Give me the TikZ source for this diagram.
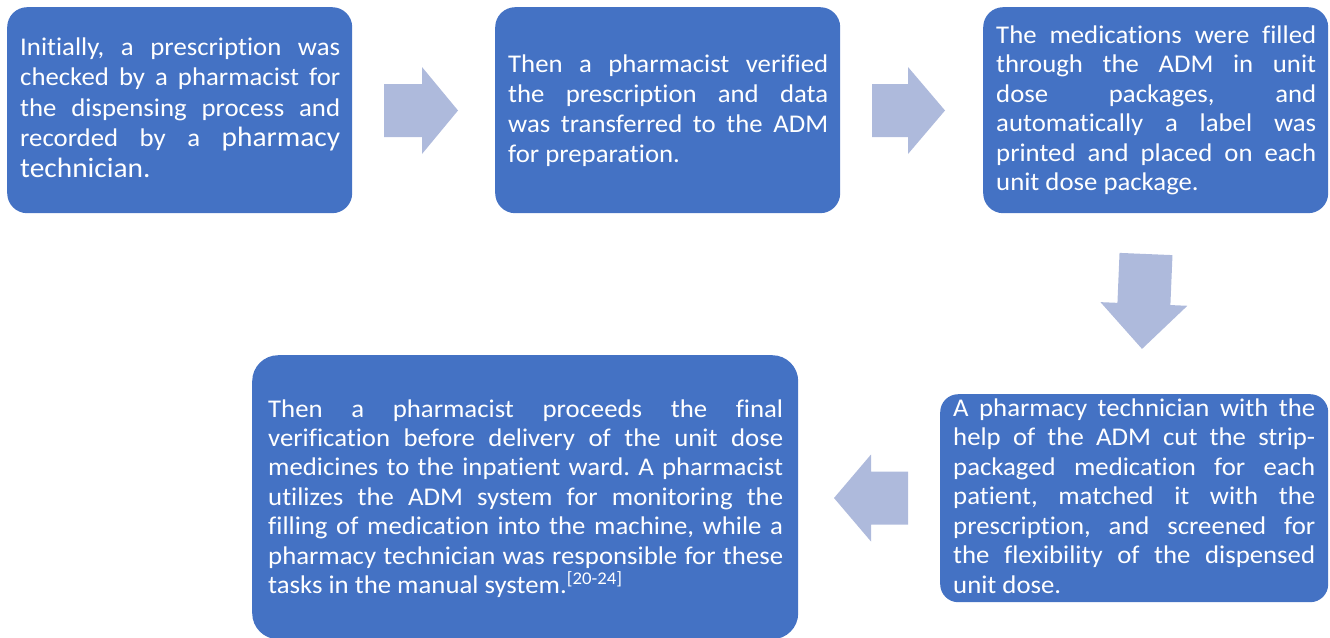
\documentclass[tikz,border=0pt]{standalone}
\usepackage{fontspec}
\setmainfont{Carlito}[FakeStretch=1.05, Ligatures={NoCommon}]
\frenchspacing
\definecolor{boxblue}{RGB}{68,114,196}
\definecolor{arrowblue}{RGB}{174,186,220}
\tikzset{
  stepbox/.style={rectangle, fill=boxblue, draw=none, inner sep=0pt,
    anchor=north west, rounded corners=#1},
  steptext/.style={text=white, inner sep=0pt, anchor=base west},
  pics/blockarrow/.style 2 args={code={
    \fill[arrowblue] (0,-26.5) -- (#1,-26.5) -- (#1,-43.5) -- ({#1+#2},0)
      -- (#1,43.5) -- (#1,26.5) -- (0,26.5) -- cycle;}}
}
\newcommand{\steppar}[3]{\parbox[t]{#1pt}{\fontsize{25.5}{#2}\selectfont #3}}
\newcommand{\bigword}[1]{{\fontsize{28}{30.5}\selectfont #1}}
\begin{document}
\begin{tikzpicture}[x=1pt, y=-1pt]
\useasboundingbox (0,0) rectangle (1330,637);

% process boxes
\node[stepbox=20pt, minimum width=345pt, minimum height=206pt] (b1) at (7,7) {};
\node[stepbox=20pt, minimum width=345pt, minimum height=206pt] (b2) at (495,7) {};
\node[stepbox=20pt, minimum width=345pt, minimum height=206pt] (b3) at (983,7) {};
\node[stepbox=18pt, minimum width=388pt, minimum height=208pt] (b4) at (940,394) {};
\node[stepbox=26pt, minimum width=546pt, minimum height=284pt] (b5) at (252,355) {};

% box texts
\node[steptext] (t1) at (20,55) {\steppar{320}{30.5}{Initially, a prescription was\linebreak
  checked by a pharmacist for\linebreak
  the dispensing process and\linebreak
  recorded by a \bigword{pharmacy}\linebreak
  \bigword{technician.}}};
\node[steptext] (t2) at (508,72) {\steppar{320}{30.3}{Then a pharmacist verified\linebreak
  the prescription and data\linebreak
  was transferred to the ADM\linebreak
  for preparation.}};
\node[steptext] (t3) at (996,43) {\steppar{320}{29.5}{The medications were filled\linebreak
  through the ADM in unit\linebreak
  dose packages, and\linebreak
  automatically a label was\linebreak
  printed and placed on each\linebreak
  unit dose package.}};
\node[steptext] (t4) at (953,416) {\steppar{362}{29.5}{A pharmacy technician with the\linebreak
  help of the ADM cut the strip-\linebreak
  packaged medication for each\linebreak
  patient, matched it with the\linebreak
  prescription, and screened for\linebreak
  the flexibility of the dispensed\linebreak
  unit dose.}};
\node[steptext] (t5) at (268,417) {\steppar{515}{29.4}{Then a pharmacist proceeds the final\linebreak
  verification before delivery of the unit dose\linebreak
  medicines to the inpatient ward. A pharmacist\linebreak
  utilizes the ADM system for monitoring the\linebreak
  filling of medication into the machine, while a\linebreak
  pharmacy technician was responsible for these\linebreak
  tasks in the manual system.\textsuperscript{[20-24]}}};

% block arrows between the steps
\pic (a1) at (384,110.5) {blockarrow={38}{36}};
\pic (a2) at (872,110.5) {blockarrow={36}{37}};
\pic[rotate=-92.4] (a3) at (1146,254) {blockarrow={50}{45}};
\pic[rotate=180] (a4) at (908,498) {blockarrow={37}{37}};
\end{tikzpicture}
\end{document}
